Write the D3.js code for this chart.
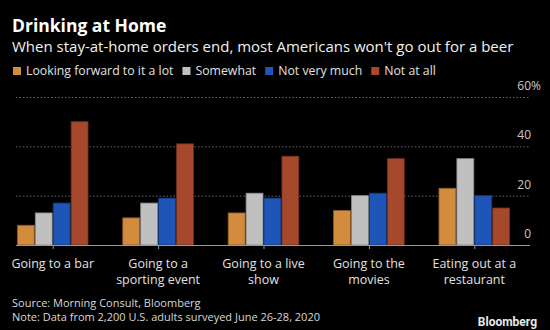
<!DOCTYPE html>
<html>
<head>
<meta charset="utf-8">
<script src="https://cdn.jsdelivr.net/npm/d3@7"></script>
<style>
  body { margin: 0; background: #000; }
  svg { display: block; font-family: "Open Sans", sans-serif; }
</style>
</head>
<body>
<svg width="550" height="330"></svg>
<script>
// survey answers, % of respondents
var categories = ["Going to a bar", "Going to a sporting event", "Going to a live show", "Going to the movies", "Eating out at a restaurant"];
var catLines = [["Going to a bar"], ["Going to a", "sporting event"], ["Going to a live", "show"], ["Going to the", "movies"], ["Eating out at a", "restaurant"]];
var keys = ["Looking forward to it a lot", "Somewhat", "Not very much", "Not at all"];
var lookingForward = [8, 11, 13, 14, 23];
var somewhat = [13, 17, 21, 20, 35];
var notVeryMuch = [17, 19, 19, 21, 20];
var notAtAll = [50, 41, 36, 35, 15];
var yTicks = [0, 20, 40, 60];

var colors = ["#d38b3d", "#c0c0c0", "#1f55b6", "#a6482b"];
var strokes = ["#8a5a25", "#888888", "#143a80", "#6e2f1c"];

var series = [lookingForward, somewhat, notVeryMuch, notAtAll];
var data = categories.map(function(c, i) {
  return { cat: c, values: keys.map(function(k, j) { return { key: k, value: series[j][i] }; }) };
});

var svg = d3.select("svg"),
  margin = {top: 97, left: 0},
  width = 527,
  height = 148,
  g = svg.append("g").attr("transform", "translate(" + margin.left + "," + margin.top + ")");

var x0 = d3.scaleBand().domain(categories).range([0, width]).paddingInner(0.32).paddingOuter(0.16);
var x1 = d3.scaleBand().domain(keys).range([0, x0.bandwidth()]);
var y = d3.scaleLinear().domain([0, 60]).range([height, 0]);
var z = d3.scaleOrdinal().domain(keys).range(colors);
var zs = d3.scaleOrdinal().domain(keys).range(strokes);

// title block
svg.append("text")
  .attr("x", 12).attr("y", 32)
  .attr("fill", "#fff")
  .style("font-size", "17.5px").style("font-weight", "bold")
  .text("Drinking at Home");

svg.append("text")
  .attr("x", 12).attr("y", 52)
  .attr("fill", "#f0f0f0")
  .style("font-size", "15px")
  .text("When stay-at-home orders end, most Americans won't go out for a beer");

// legend
var lx = 13;
var legend = svg.append("g").selectAll("g")
  .data(keys).enter().append("g");
legend.each(function(d) {
  var item = d3.select(this).attr("transform", "translate(" + lx + ",67)");
  item.append("rect").attr("width", 8).attr("height", 8).attr("fill", z(d));
  var t = item.append("text").attr("x", 13).attr("y", 8)
    .attr("fill", "#e0e0e0").style("font-size", "12.3px").text(d);
  lx += 13 + t.node().getComputedTextLength() + 9;
});

// gridlines
g.append("g").selectAll("line")
  .data(yTicks.filter(function(d) { return d > 0; }))
  .enter().append("line")
  .attr("x1", 16).attr("x2", 530)
  .attr("y1", function(d) { return y(d) + 0.5; })
  .attr("y2", function(d) { return y(d) + 0.5; })
  .attr("stroke", "#666").attr("stroke-dasharray", "1.5,2");

// y tick labels
g.append("g").selectAll("text")
  .data(yTicks).enter().append("text")
  .attr("x", 531)
  .attr("y", function(d) { return y(d) - 7; })
  .attr("text-anchor", "end")
  .attr("fill", "#c8c8c8")
  .style("font-size", "12px")
  .text(function(d) { return d; });
g.append("text")
  .attr("x", 531).attr("y", y(60) - 7)
  .attr("fill", "#c8c8c8").style("font-size", "12px")
  .text("%");

// bars
g.append("g").selectAll("g")
  .data(data).enter().append("g")
  .attr("transform", function(d) { return "translate(" + x0(d.cat) + ",0)"; })
  .selectAll("rect")
  .data(function(d) { return d.values; })
  .enter().append("rect")
  .attr("x", function(d) { return x1(d.key) + 0.5; })
  .attr("y", function(d) { return y(d.value); })
  .attr("width", x1.bandwidth() - 1)
  .attr("height", function(d) { return y(0) - y(d.value); })
  .attr("fill", function(d) { return z(d.key); })
  .attr("stroke", function(d) { return zs(d.key); })
  .attr("stroke-width", 0.8);

// baseline and ticks
g.append("line")
  .attr("x1", 16).attr("x2", 530)
  .attr("y1", y(0) + 0.5).attr("y2", y(0) + 0.5)
  .attr("stroke", "#999").attr("stroke-width", 1);

var xAxis = g.append("g").selectAll("g")
  .data(categories).enter().append("g")
  .attr("transform", function(d) { return "translate(" + (x0(d) + x0.bandwidth() / 2) + "," + y(0) + ")"; });
xAxis.append("line")
  .attr("x1", 0.5).attr("x2", 0.5).attr("y1", 0).attr("y2", 4)
  .attr("stroke", "#999");
xAxis.append("text")
  .attr("text-anchor", "middle")
  .attr("fill", "#e0e0e0")
  .style("font-size", "12.5px")
  .selectAll("tspan")
  .data(function(d, i) { return catLines[i]; })
  .enter().append("tspan")
  .attr("x", 0)
  .attr("y", function(d, i) { return 23 + i * 15.5; })
  .text(function(d) { return d; });

// footer
svg.append("text")
  .attr("x", 12).attr("y", 307)
  .attr("fill", "#d8d8d8").style("font-size", "11px")
  .text("Source: Morning Consult, Bloomberg");
svg.append("text")
  .attr("x", 12).attr("y", 321)
  .attr("fill", "#d8d8d8").style("font-size", "11px")
  .text("Note: Data from 2,200 U.S. adults surveyed June 26-28, 2020");
svg.append("text")
  .attr("x", 537).attr("y", 326)
  .attr("text-anchor", "end")
  .attr("fill", "#e8e8e8").style("font-size", "12px").style("font-weight", "bold")
  .style("font-family", "Roboto, sans-serif")
  .text("Bloomberg");
</script>
</body>
</html>
